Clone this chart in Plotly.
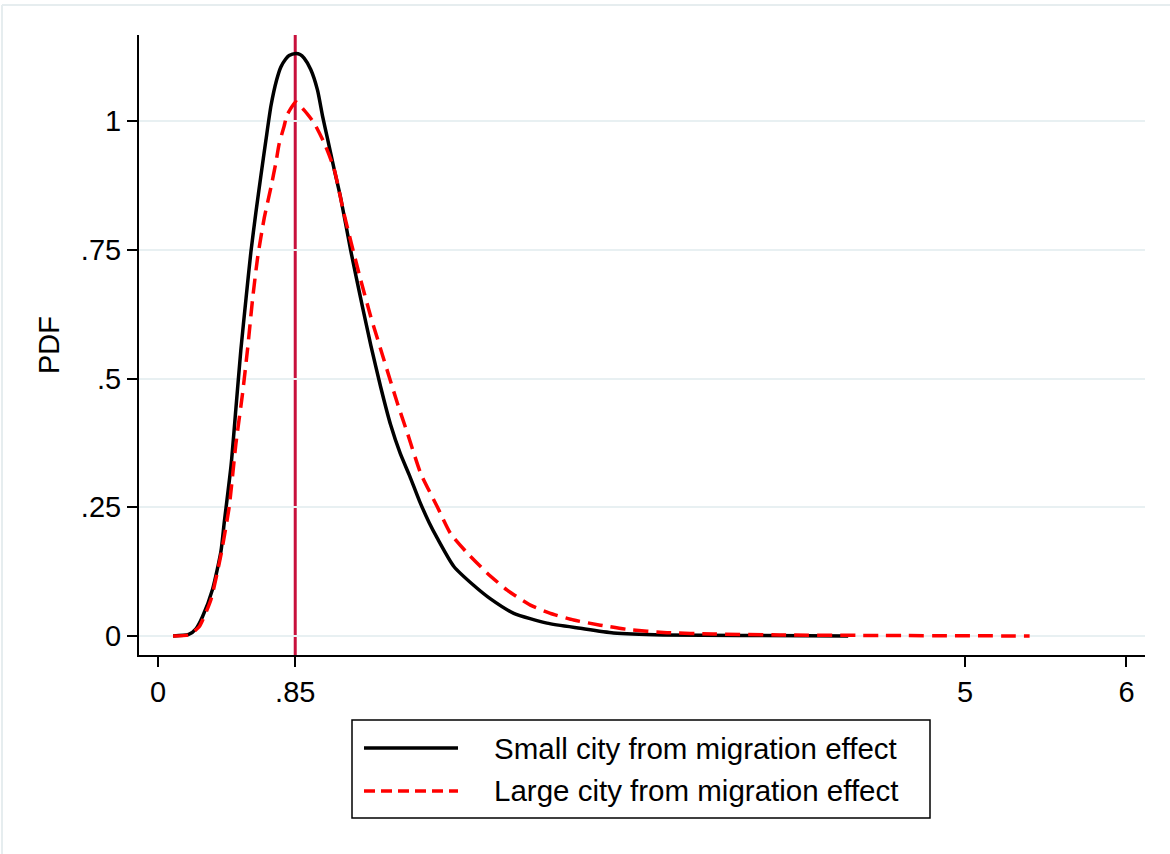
import plotly.graph_objects as go

# ---------------- data ----------------
small_x = [0.093, 0.19, 0.235, 0.276, 0.338, 0.39, 0.41, 0.452, 0.482, 0.513, 0.545, 0.575,
           0.606, 0.637, 0.668, 0.70, 0.735, 0.761, 0.79, 0.812, 0.854, 0.88, 0.905, 0.946,
           0.988, 1.019, 1.05, 1.09, 1.132, 1.194, 1.266, 1.318, 1.379, 1.441, 1.50, 1.56,
           1.62, 1.68, 1.73, 1.833, 1.957, 2.06, 2.204, 2.41, 2.616, 2.822, 3.13, 3.6, 4.276]
small_y = [0.0, 0.003, 0.014, 0.038, 0.091, 0.165, 0.22, 0.33, 0.44, 0.555, 0.655, 0.745,
           0.822, 0.893, 0.962, 1.030, 1.08, 1.105, 1.12, 1.127, 1.131, 1.129, 1.122, 1.10,
           1.06, 1.01, 0.966, 0.908, 0.85, 0.748, 0.64, 0.565, 0.484, 0.41, 0.355, 0.31,
           0.262, 0.22, 0.19, 0.135, 0.098, 0.072, 0.044, 0.025, 0.015, 0.006, 0.002, 0.001, 0.0]

large_x = [0.093, 0.19, 0.255, 0.328, 0.39, 0.441, 0.482, 0.524, 0.555, 0.586, 0.617, 0.658,
           0.70, 0.73, 0.75, 0.781, 0.80, 0.854, 0.905, 0.967, 1.03, 1.09, 1.152, 1.245, 1.318,
           1.40, 1.483, 1.545, 1.627, 1.73, 1.812, 1.916, 2.04, 2.163, 2.307, 2.431, 2.575,
           2.74, 2.905, 3.153, 3.44, 3.85, 4.5, 5.4]
large_y = [0.0, 0.002, 0.018, 0.071, 0.158, 0.251, 0.372, 0.472, 0.558, 0.655, 0.735, 0.812,
           0.872, 0.919, 0.955, 0.99, 1.012, 1.037, 1.021, 0.996, 0.957, 0.908, 0.82, 0.704, 0.62,
           0.536, 0.452, 0.394, 0.316, 0.251, 0.199, 0.161, 0.122, 0.089, 0.060, 0.044, 0.031,
           0.021, 0.013, 0.0065, 0.004, 0.002, 0.001, 0.0]

series_names = ["Small city from migration effect", "Large city from migration effect"]
x_tickvals = [0, 0.85, 5, 6]
x_ticktext = ["0", ".85", "5", "6"]
y_tickvals = [0, 0.25, 0.5, 0.75, 1]
y_ticktext = ["0", ".25", ".5", ".75", "1"]
ref_line_x = 0.85
y_title = "PDF"

# ---------------- layout geometry (pixels) ----------------
W, H = 1170, 854
L, R, T, B = 139, 1145, 35, 655
FONT = "Liberation Sans, Arial, sans-serif"
TICK_SIZE = 29
LEG_SIZE = 29.5
DASH = "15px,8px"


def px_x(p):
    return (p - L) / (R - L)


def px_y(p):
    return (B - p) / (B - T)


fig = go.Figure()
fig.add_trace(go.Scatter(x=small_x, y=small_y, mode="lines", name=series_names[0],
                         line=dict(color="#000000", width=3.5, shape="spline", smoothing=0.6),
                         showlegend=False))
fig.add_trace(go.Scatter(x=large_x, y=large_y, mode="lines", name=series_names[1],
                         line=dict(color="#FF0000", width=3.5, dash=DASH, shape="spline", smoothing=0.5),
                         showlegend=False))

shapes = []
# vertical reference line
shapes.append(dict(type="line", xref="x", yref="paper", x0=ref_line_x, x1=ref_line_x,
                   y0=0, y1=1, line=dict(color="#C8103C", width=3), layer="below"))
# outer light frame (top and left edges)
shapes.append(dict(type="line", xref="paper", yref="paper", x0=px_x(2), x1=px_x(1170),
                   y0=px_y(5), y1=px_y(5), line=dict(color="#E6EDEF", width=2)))
shapes.append(dict(type="line", xref="paper", yref="paper", x0=px_x(2), x1=px_x(2),
                   y0=px_y(5), y1=px_y(854), line=dict(color="#E6EDEF", width=2)))
# legend box
shapes.append(dict(type="rect", xref="paper", yref="paper", x0=px_x(352), x1=px_x(930),
                   y0=px_y(818), y1=px_y(720), line=dict(color="#000000", width=1.5),
                   fillcolor="white"))
# legend samples
shapes.append(dict(type="line", xref="paper", yref="paper", x0=px_x(364), x1=px_x(458),
                   y0=px_y(748), y1=px_y(748), line=dict(color="#000000", width=3.5)))
shapes.append(dict(type="line", xref="paper", yref="paper", x0=px_x(364), x1=px_x(458),
                   y0=px_y(791), y1=px_y(791), line=dict(color="#FF0000", width=3.5, dash="11px,6px")))

annotations = [
    dict(xref="paper", yref="paper", x=px_x(492), y=px_y(748), text=series_names[0],
         showarrow=False, xanchor="left", yanchor="middle",
         font=dict(family=FONT, size=LEG_SIZE, color="black")),
    dict(xref="paper", yref="paper", x=px_x(492), y=px_y(791), text=series_names[1],
         showarrow=False, xanchor="left", yanchor="middle",
         font=dict(family=FONT, size=LEG_SIZE, color="black")),
]

fig.update_layout(
    width=W, height=H,
    margin=dict(l=L, r=W - R, t=T, b=H - B, pad=0),
    paper_bgcolor="white", plot_bgcolor="white",
    font=dict(family=FONT, size=TICK_SIZE, color="black"),
    shapes=shapes, annotations=annotations,
    showlegend=False,
)
fig.update_xaxes(range=[-0.118, 6.115], tickvals=x_tickvals, ticktext=x_ticktext,
                 showgrid=False, zeroline=False, showline=True, linecolor="black", linewidth=2,
                 ticks="outside", ticklen=10, tickwidth=2, tickcolor="black",
                 tickfont=dict(family=FONT, size=TICK_SIZE, color="black"))
fig.update_yaxes(range=[-0.0369, 1.167], tickvals=y_tickvals, ticktext=y_ticktext,
                 showgrid=True, gridcolor="#E8F0F2", gridwidth=2, zeroline=False,
                 showline=True, linecolor="black", linewidth=2,
                 ticks="outside", ticklen=10, tickwidth=2, tickcolor="black",
                 tickfont=dict(family=FONT, size=TICK_SIZE, color="black"),
                 title=dict(text=y_title, standoff=13,
                            font=dict(family=FONT, size=TICK_SIZE, color="black")))

fig.write_html("out.html")
